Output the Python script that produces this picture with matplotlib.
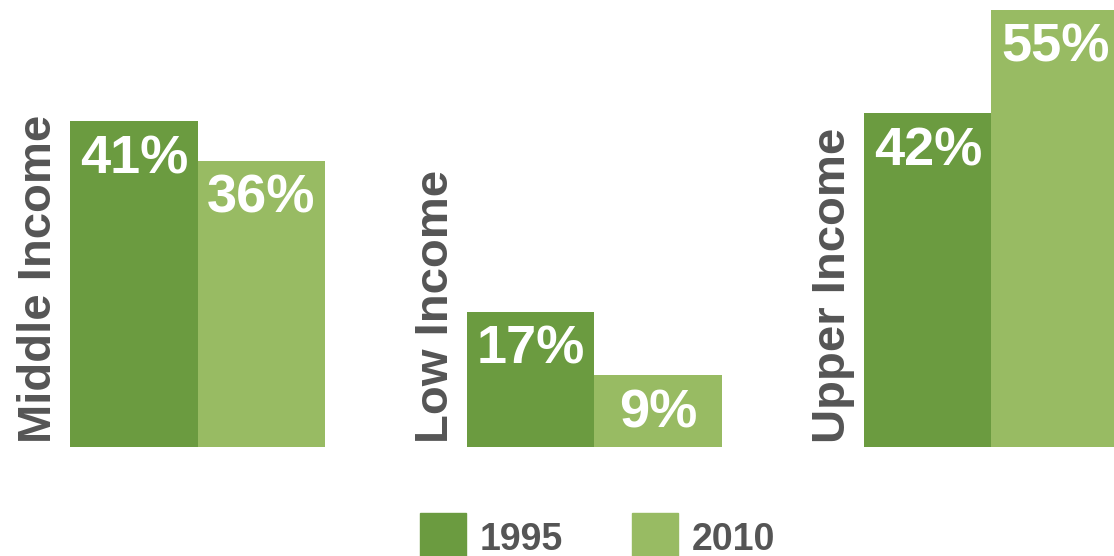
import numpy as np
import matplotlib
matplotlib.use("Agg")
import matplotlib.pyplot as plt
from matplotlib.patches import Rectangle

plt.rcParams['font.family'] = ['Liberation Sans', 'DejaVu Sans']
plt.rcParams['font.weight'] = 'bold'

# Gelir grupları ve yıllara göre paylar (%)
categories = ["Middle Income", "Low Income", "Upper Income"]
years = ["1995", "2010"]
share_1995 = [41, 17, 42]
share_2010 = [36, 9, 55]

colors = ["#6b9b40", "#98bb63"]
text_grey = "#555555"

fig = plt.figure(figsize=(11.14, 5.56), dpi=100)
ax = fig.add_axes([0, 0, 1, 1])

x = np.arange(len(categories))
width = 0.321

bars_a = ax.bar(x - width, share_1995, width, align='edge', color=colors[0])
bars_b = ax.bar(x, share_2010, width, align='edge', color=colors[1])

# Yüzdeleri çubukların içine, üst kısma yaz
for bars in (bars_a, bars_b):
    for bar in bars:
        h = bar.get_height()
        ax.annotate(f"{h:.0f}%", xy=(bar.get_x() + bar.get_width() / 2, h),
                    xytext=(0, -13), textcoords='offset pixels',
                    ha='center', va='top', color='white',
                    fontsize=39, fontweight='bold')

# Kategori isimleri dikey olarak grubun solunda
for i, name in enumerate(categories):
    ax.annotate(name, xy=(x[i] - width, 0), xytext=(-19, 4),
                textcoords='offset pixels', rotation=90,
                rotation_mode='anchor', ha='left', va='baseline',
                color=text_grey, fontsize=34, fontweight='bold')

ax.set_xlim(-0.4975, 2.3086)
ax.set_ylim(-13.71, 56.23)
ax.axis('off')

# Lejant: kare + yıl
fig_w, fig_h = 1114, 556
for sq_x, label, c in [(420, years[0], colors[0]), (632, years[1], colors[1])]:
    fig.add_artist(Rectangle((sq_x / fig_w, 0), 46 / fig_w, 43 / fig_h,
                             transform=fig.transFigure, color=c))
    fig.text((sq_x + 60) / fig_w, 6 / fig_h, label, ha='left', va='baseline',
             color=text_grey, fontsize=27, fontweight='bold')

plt.savefig("out.png", dpi=100)
